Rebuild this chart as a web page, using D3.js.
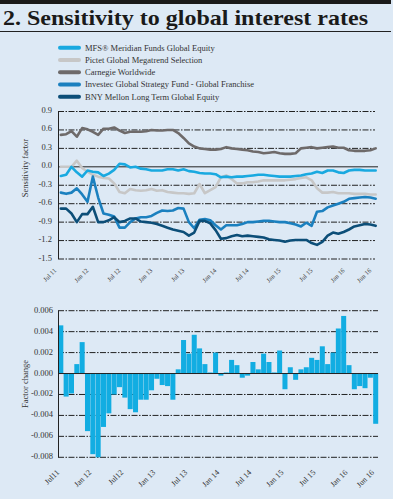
<!DOCTYPE html>
<html>
<head>
<meta charset="utf-8">
<script src="https://cdn.jsdelivr.net/npm/d3@7"></script>
<style>
  body { margin: 0; background: #dde9f5; }
  svg { display: block; }
</style>
</head>
<body>
<script>
// series names (legend order)
const seriesNames = [
    "MFS\u00AE Meridian Funds Global Equity",
    "Pictet Global Megatrend Selection",
    "Carnegie Worldwide",
    "Investec Global Strategy Fund - Global Franchise",
    "BNY Mellon Long Term Global Equity"
];
const seriesColors = ["#19a9e0", "#c7c7c7", "#6e6a6a", "#1b80bf", "#0c4e78"];

// monthly sensitivity factor, Jul 2011 .. Jun 2016
const mfs = [-0.15,-0.13,0.00,-0.09,-0.16,-0.06,-0.08,-0.09,-0.15,-0.11,-0.05,0.05,0.04,-0.01,0.00,-0.03,-0.04,-0.06,-0.06,-0.06,
    -0.04,-0.04,-0.06,-0.04,-0.07,-0.08,-0.10,-0.11,-0.11,-0.12,-0.17,-0.16,-0.17,-0.16,-0.16,-0.15,-0.14,-0.13,-0.13,-0.14,
    -0.15,-0.16,-0.16,-0.16,-0.15,-0.14,-0.12,-0.11,-0.08,-0.10,-0.06,-0.06,-0.09,-0.10,-0.06,-0.05,-0.05,-0.06,-0.06,-0.06];
const pictet = [0.00,0.00,0.00,0.10,-0.02,-0.08,-0.13,-0.16,-0.18,-0.19,-0.27,-0.41,-0.43,-0.36,-0.38,-0.39,-0.38,-0.36,-0.39,-0.38,
    -0.41,-0.42,-0.43,-0.43,-0.44,-0.43,-0.28,-0.43,-0.38,-0.33,-0.17,-0.14,-0.20,-0.27,-0.27,-0.25,-0.25,-0.24,-0.22,-0.22,
    -0.22,-0.22,-0.22,-0.21,-0.20,-0.18,-0.17,-0.22,-0.35,-0.42,-0.42,-0.41,-0.43,-0.43,-0.43,-0.44,-0.44,-0.44,-0.45,-0.45];
const carnegie = [0.52,0.53,0.58,0.49,0.63,0.61,0.57,0.52,0.62,0.62,0.64,0.59,0.55,0.57,0.57,0.57,0.58,0.60,0.59,0.59,
    0.60,0.60,0.55,0.47,0.38,0.33,0.30,0.29,0.28,0.28,0.29,0.32,0.30,0.29,0.28,0.27,0.25,0.24,0.22,0.23,
    0.24,0.22,0.21,0.21,0.22,0.30,0.31,0.32,0.30,0.31,0.32,0.33,0.31,0.31,0.27,0.26,0.26,0.26,0.27,0.30];
const investec = [-0.42,-0.44,-0.42,-0.35,-0.45,-0.57,-0.16,-0.50,-0.76,-0.78,-0.81,-0.99,-0.99,-0.90,-0.84,-0.82,-0.82,-0.80,-0.75,-0.71,
    -0.72,-0.71,-0.67,-0.68,-0.90,-1.00,-0.86,-0.85,-0.87,-0.95,-1.02,-0.95,-0.95,-0.95,-0.93,-0.90,-0.90,-0.89,-0.88,-0.88,
    -0.89,-0.90,-0.90,-0.92,-0.94,-0.97,-0.91,-0.96,-0.73,-0.72,-0.66,-0.63,-0.60,-0.57,-0.52,-0.51,-0.50,-0.49,-0.50,-0.52];
const bny = [-0.68,-0.68,-0.76,-0.90,-0.77,-0.77,-0.65,-0.90,-0.90,-0.87,-0.82,-0.90,-0.88,-0.84,-0.84,-0.89,-0.90,-0.91,-0.93,-0.96,
    -0.99,-1.02,-1.04,-1.06,-1.12,-1.07,-0.88,-0.88,-0.92,-1.03,-1.17,-1.16,-1.13,-1.11,-1.13,-1.12,-1.13,-1.14,-1.15,-1.18,
    -1.19,-1.20,-1.22,-1.20,-1.19,-1.19,-1.19,-1.24,-1.27,-1.22,-1.12,-1.07,-1.09,-1.06,-1.02,-0.97,-0.95,-0.93,-0.94,-0.96];

// monthly factor change
const factorChange = [0.0046,-0.0022,-0.0019,0.0009,0.0030,-0.0055,-0.0077,-0.0080,-0.0051,-0.0038,-0.0020,-0.0013,-0.0023,-0.0034,-0.0037,
    -0.0025,-0.0025,-0.0016,-0.0005,-0.0011,-0.0012,-0.0025,0.0004,0.0032,0.0019,0.0037,0.0024,0.0009,0.0001,0.0020,
    -0.0002,0.0001,0.0013,0.0008,-0.0004,-0.0002,0.0011,0.0004,0.0019,0.0011,0.0001,0.0022,-0.0015,0.0006,-0.0006,
    0.0004,0.0006,0.0015,0.0013,0.0026,0.0009,0.0020,0.0043,0.0055,0.0008,-0.0015,-0.0012,-0.0014,-0.0004,-0.0048];

const tickIndex = [0, 6, 12, 18, 24, 30, 36, 42, 48, 54, 59];
const topTickLabels = ["Jul 11","Jan 12","Jul 12","Jan 13","Jul 13","Jan 14","Jul 14","Jan 15","Jul 15","Jan 16","Jun 16"];
const bottomTickLabels = ["Jul11","Jan 12","Jul12","Jan 13","Jul 13","Jan 14","Jul 14","Jan 15","Jul 15","Jan 16","Jun 16"];
const topYTicks = [0.9, 0.6, 0.3, 0.0, -0.3, -0.6, -0.9, -1.2, -1.5];
const bottomYTicks = [0.006, 0.004, 0.002, 0.000, -0.002, -0.004, -0.006, -0.008];

const width = 393, height = 499;
const serif = "'Liberation Serif', 'DejaVu Serif', serif";
const ink = "#222";
const dash = "6,1.5,1.5,1.5";

const svg = d3.select("body").append("svg")
    .attr("width", width)
    .attr("height", height);

svg.append("rect").attr("width", width).attr("height", height).attr("fill", "#dde9f5");

// title block
svg.append("rect").attr("x", 0).attr("y", 0).attr("width", 391).attr("height", 4).attr("fill", "#1a1a1a");
svg.append("text")
    .attr("x", 3).attr("y", 25)
    .attr("font-family", serif)
    .attr("font-weight", "bold")
    .attr("font-size", 22)
    .attr("fill", "#1a1a1a")
    .attr("textLength", 365)
    .attr("lengthAdjust", "spacingAndGlyphs")
    .text("2. Sensitivity to global interest rates");
svg.append("line").attr("x1", 0).attr("x2", 391).attr("y1", 31.5).attr("y2", 31.5)
    .attr("stroke", ink).attr("stroke-width", 1);

// legend
const legend = svg.append("g");
seriesNames.forEach((name, i) => {
    const y = 47.7 + i * 12.25;
    legend.append("line")
        .attr("x1", 60).attr("x2", 79).attr("y1", y).attr("y2", y)
        .attr("stroke", seriesColors[i]).attr("stroke-width", 4).attr("stroke-linecap", "round");
    legend.append("text")
        .attr("x", 85).attr("y", y + 3)
        .attr("font-family", serif).attr("font-size", 8.5).attr("fill", "#333")
        .text(name);
});

// shared month scale
const x = d3.scaleBand()
    .domain(d3.range(factorChange.length))
    .range([58.3, 378.2])
    .paddingInner(0.06)
    .paddingOuter(0);
const xc = i => x(i) + x.bandwidth() / 2;

// ---- top chart ----
const yTop = d3.scaleLinear().domain([-1.5, 0.9]).range([259, 111.5]);
const topChart = svg.append("g");

topChart.selectAll("line.grid")
    .data(topYTicks.filter(d => d !== 0))
    .enter().append("line")
    .attr("class", "grid")
    .attr("x1", 58).attr("x2", 375)
    .attr("y1", d => yTop(d)).attr("y2", d => yTop(d))
    .attr("stroke", ink).attr("stroke-width", 1).attr("stroke-dasharray", dash);

topChart.append("line")
    .attr("x1", 58).attr("x2", 378)
    .attr("y1", yTop(0)).attr("y2", yTop(0))
    .attr("stroke", ink).attr("stroke-width", 1);

topChart.append("line")
    .attr("x1", 58.5).attr("x2", 58.5)
    .attr("y1", yTop(0.9)).attr("y2", yTop(-1.5))
    .attr("stroke", ink).attr("stroke-width", 1);

topChart.selectAll("text.ytick")
    .data(topYTicks)
    .enter().append("text")
    .attr("class", "ytick")
    .attr("x", 52).attr("y", d => yTop(d) + 1.5)
    .attr("text-anchor", "end")
    .attr("font-family", serif).attr("font-size", 8.5).attr("fill", "#333")
    .text(d => d3.format(".1f")(d).replace("\u2212", "-"));

topChart.selectAll("text.xtick")
    .data(tickIndex)
    .enter().append("text")
    .attr("class", "xtick")
    .attr("text-anchor", "end")
    .attr("font-family", serif).attr("font-size", 6.5).attr("fill", "#333")
    .attr("transform", d => `translate(${xc(d) - 4},271) rotate(-45)`)
    .text((d, i) => topTickLabels[i]);

topChart.append("text")
    .attr("transform", "translate(28,168) rotate(-90)")
    .attr("text-anchor", "middle")
    .attr("font-family", serif).attr("font-size", 8.5).attr("fill", "#333")
    .text("Sensitivity factor");

const line = d3.line()
    .x((d, i) => xc(i))
    .y(d => yTop(d));

const drawOrder = [
    { values: pictet, color: seriesColors[1] },
    { values: carnegie, color: seriesColors[2] },
    { values: mfs, color: seriesColors[0] },
    { values: investec, color: seriesColors[3] },
    { values: bny, color: seriesColors[4] }
];

topChart.selectAll("path.series")
    .data(drawOrder)
    .enter().append("path")
    .attr("class", "series")
    .attr("d", d => line(d.values))
    .attr("fill", "none")
    .attr("stroke", d => d.color)
    .attr("stroke-width", 2.6)
    .attr("stroke-linejoin", "round")
    .attr("stroke-linecap", "round");

// ---- bottom chart ----
const yBot = d3.scaleLinear().domain([-0.008, 0.006]).range([457.3, 310.7]);
const botChart = svg.append("g");

botChart.selectAll("line.grid")
    .data(bottomYTicks.filter(d => d !== 0))
    .enter().append("line")
    .attr("class", "grid")
    .attr("x1", 58).attr("x2", 378)
    .attr("y1", d => yBot(d)).attr("y2", d => yBot(d))
    .attr("stroke", ink).attr("stroke-width", 1).attr("stroke-dasharray", dash);

botChart.selectAll("rect.bar")
    .data(factorChange)
    .enter().append("rect")
    .attr("class", "bar")
    .attr("x", (d, i) => x(i))
    .attr("width", x.bandwidth())
    .attr("y", d => yBot(Math.max(0, d)))
    .attr("height", d => Math.abs(yBot(d) - yBot(0)))
    .attr("fill", "#12ade2");

botChart.append("line")
    .attr("x1", 58).attr("x2", 378)
    .attr("y1", yBot(0)).attr("y2", yBot(0))
    .attr("stroke", ink).attr("stroke-width", 1);

botChart.append("line")
    .attr("x1", 58.5).attr("x2", 58.5)
    .attr("y1", yBot(0.006)).attr("y2", yBot(-0.008))
    .attr("stroke", ink).attr("stroke-width", 1);

botChart.selectAll("text.ytick")
    .data(bottomYTicks)
    .enter().append("text")
    .attr("class", "ytick")
    .attr("x", 53).attr("y", d => yBot(d) + 2)
    .attr("text-anchor", "end")
    .attr("font-family", serif).attr("font-size", 8.5).attr("fill", "#333")
    .text(d => d3.format(".3f")(d).replace("\u2212", "-"));

botChart.selectAll("text.xtick")
    .data(tickIndex)
    .enter().append("text")
    .attr("class", "xtick")
    .attr("text-anchor", "end")
    .attr("font-family", serif).attr("font-size", 8).attr("fill", "#333")
    .attr("transform", d => `translate(${xc(d) - 1},473) rotate(-45)`)
    .text((d, i) => bottomTickLabels[i]);

botChart.append("text")
    .attr("transform", "translate(28,384) rotate(-90)")
    .attr("text-anchor", "middle")
    .attr("font-family", serif).attr("font-size", 8.5).attr("fill", "#333")
    .text("Factor change");
</script>
</body>
</html>
